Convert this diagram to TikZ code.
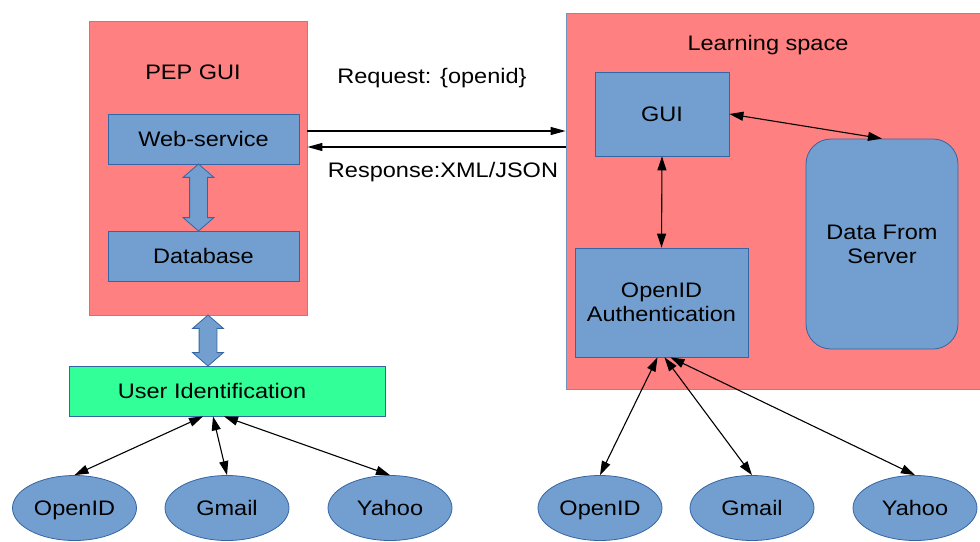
\documentclass[tikz,border=0pt]{standalone}
\usepackage{fontspec}
\setmainfont{Liberation Sans}[FakeStretch=1.12]
\usepackage{xcolor}
\usetikzlibrary{positioning, calc, arrows.meta, shapes.geometric, shapes.arrows}

\definecolor{salmon}{HTML}{FF8080}
\definecolor{boxblue}{HTML}{729FCF}
\definecolor{lineblue}{HTML}{3465A4}
\definecolor{idgreen}{HTML}{33FF99}

\tikzset{
  area/.style={draw=lineblue!70, fill=salmon, line width=0.8pt, inner sep=0pt},
  bluebox/.style={draw=lineblue, fill=boxblue, line width=0.8pt, inner sep=0pt, align=center},
  provider/.style={ellipse, draw=lineblue, fill=boxblue, line width=0.8pt,
    minimum width=124pt, minimum height=65pt, inner sep=0pt, text depth=0pt},
  link/.style={line width=1.1pt, {Triangle[length=14pt,width=9pt]}-{Triangle[length=14pt,width=9pt]}},
  oneway/.style={line width=1.1pt, -{Triangle[length=15pt,width=8pt]}},
  fatarrow/.style={double arrow, draw=lineblue, fill=boxblue, line width=0.8pt, rotate=90,
    inner xsep=0pt, inner ysep=8.5pt, double arrow head extend=6.5pt, double arrow tip angle=98}
}

\begin{document}
\begin{tikzpicture}[x=1pt, y=-1pt, font=\fontsize{21}{24}\selectfont]
  \useasboundingbox (0,0) rectangle (980,541);
  % PEP side
  \node[area, minimum width=218pt, minimum height=294pt] (pep) at (198,168) {};
  \node (pep-title) at (193,72) {PEP GUI};
  \node[bluebox, minimum width=191pt, minimum height=50pt] (ws) at (203.5,139) {Web-service};
  \node[bluebox, minimum width=191pt, minimum height=50pt] (db) at (203.5,256) {Database};
  \node[fatarrow, minimum height=67pt] (ws-db) at ($(ws.south)!0.5!(db.north)+(-5,0)$) {};
  \node[bluebox, fill=idgreen, minimum width=316pt, minimum height=50pt,
    label={[xshift=-15pt]center:User Identification}] (ui) at (227,391) {};
  \node[fatarrow, minimum height=51pt] (pep-ui) at (208,340.5) {};
  \node[provider] (lopen) at (74.5,508) {OpenID};
  \node[provider] (lgmail) at (227,508) {Gmail};
  \node[provider] (lyahoo) at (390,508) {Yahoo};
  \draw[link] ([xshift=-24pt]ui.south) -- (lopen.north);
  \draw[link] ([xshift=-14pt]ui.south) -- (lgmail.north);
  \draw[link] ([xshift=-3pt]ui.south) -- (lyahoo.north);

  % learning space side
  \node[area, minimum width=430pt, minimum height=376pt] (ls) at (781,201) {};
  \node (ls-title) at (768,45) {Learning space};
  \node[bluebox, minimum width=134pt, minimum height=84pt] (gui) at (662,114) {GUI};
  \node[bluebox, minimum width=173pt, minimum height=109pt] (auth) at (661.5,302.5) {OpenID\\Authentication};
  \node[bluebox, rounded corners=25pt, minimum width=152pt, minimum height=210pt] (data) at (882,244) {Data From\\Server};
  \draw[link] (gui.south) -- (auth.north);
  \draw[link] (gui.east) -- (data.north);
  \node[provider] (ropen) at (600,508) {OpenID};
  \node[provider] (rgmail) at (752,508) {Gmail};
  \node[provider] (ryahoo) at (915,508) {Yahoo};
  \draw[link] ([xshift=-4pt]auth.south) -- (ropen.north);
  \draw[link] ([xshift=3pt]auth.south) -- (rgmail.north);
  \draw[link] ([xshift=9pt]auth.south) -- (ryahoo.north);

  % request and response
  \draw[oneway] (pep.east |- 0,131) -- (ls.west |- 0,131);
  \draw[oneway] (ls.west |- 0,147) -- (pep.east |- 0,147);
  \node (req) at (432,78) {Request: \{openid\}};
  \node (resp) at (443,172) {Response:XML/JSON};
\end{tikzpicture}
\end{document}
